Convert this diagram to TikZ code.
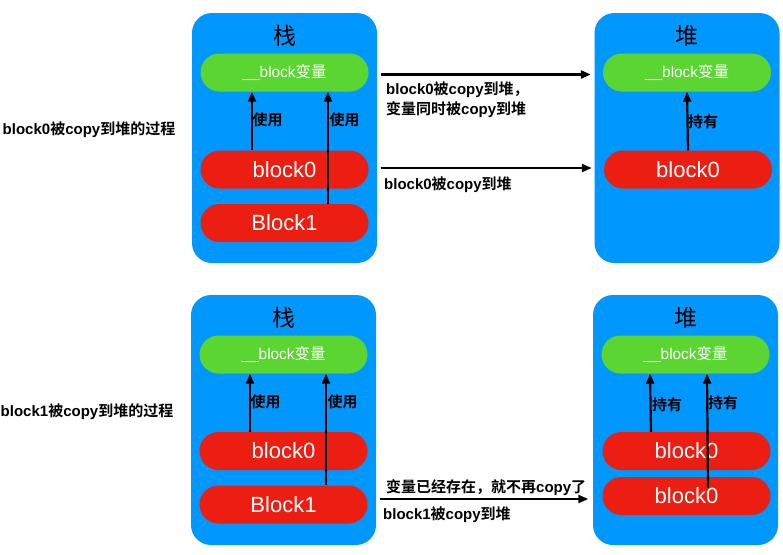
\documentclass[tikz,border=0pt]{standalone}
\usepackage{fontspec}
\setmainfont{Liberation Sans}
\newfontfamily\cjk[BoldFont={Noto Sans CJK SC Bold}]{Noto Sans CJK SC}
\usetikzlibrary{arrows.meta}
\definecolor{regionblue}{RGB}{0,152,255}
\definecolor{vargreen}{RGB}{90,213,50}
\definecolor{blockred}{RGB}{236,30,18}
\newcommand{\zh}[1]{{\cjk #1}}
\tikzstyle{region}=[rectangle, rounded corners=20pt, fill=regionblue, minimum width=185pt, minimum height=250pt, inner sep=0pt, anchor=center]
\tikzstyle{pill}=[rectangle, rounded corners=19pt, minimum width=168pt, minimum height=38pt, inner sep=0pt, text=white]
\tikzstyle{var}=[pill, fill=vargreen, font=\fontsize{15.4}{15.4}\selectfont]
\tikzstyle{blk}=[pill, fill=blockred, font=\fontsize{22}{22}\selectfont]
\tikzstyle{annot}=[inner sep=0pt, font=\bfseries\fontsize{15}{20}\selectfont]
\tikzstyle{heading}=[inner sep=0pt, font=\fontsize{23}{23}\selectfont]
\tikzstyle{link}=[line width=2.2pt, -{Triangle[length=10pt,width=8pt]}]
\newcommand{\drawregion}[4]
{
  \node[region](#1) at (#2,#3){};
  \node[heading](#1head) at (#2,#3-102){\zh{#4}};
  \node[var](#1var) at (#2,#3-65.5){\_\_block\zh{变量}};
}

\begin{document}
\begin{tikzpicture}[x=1pt, y=-1pt]
	\useasboundingbox (0,0) rectangle (783,554);

	% block0 is copied
	\drawregion{stackA}{284.5}{138}{栈}
	\drawregion{heapA}{687}{138}{堆}
	\node[blk](stackAblock0) at (284.5,169.5){block0};
	\node[blk](stackAblock1) at (284.5,223){Block1};
	\node[blk](heapAblock0) at (688,169.5){block0};

	\draw[link] ([xshift=-32.5pt]stackAblock0.north) -- ([xshift=-32.5pt]stackAvar.south);
	\draw[link] ([xshift=43.5pt]stackAblock1.north) -- ([xshift=43.5pt]stackAvar.south);
	\draw[link] (heapAblock0.north) -- (heapAvar.south);
	\node[annot](useA1) at (267.5,120){\zh{使用}};
	\node[annot](useA2) at (344.5,120){\zh{使用}};
	\node[annot](holdA) at (703,122){\zh{持有}};

	\draw[link] ([xshift=12pt,yshift=-2pt]stackAvar.east) -- ([xshift=-12pt,yshift=-2pt]heapAvar.west);
	\draw[link] ([xshift=12pt,yshift=1.5pt]stackAblock0.east) -- ([xshift=-12pt,yshift=1.5pt]heapAblock0.west);
	\node[annot, anchor=west, align=left](copyA1) at (386,100){block0\zh{被}copy\zh{到堆，}\\\zh{变量同时被}copy\zh{到堆}};
	\node[annot, anchor=west](copyA2) at (384,185){block0\zh{被}copy\zh{到堆}};
	\node[annot](procA) at (89,130){block0\zh{被}copy\zh{到堆的过程}};

	% block1 is copied
	\drawregion{stackB}{283.5}{420}{栈}
	\drawregion{heapB}{685.5}{420}{堆}
	\node[blk](stackBblock0) at (283.5,451){block0};
	\node[blk](stackBblock1) at (283.5,504.5){Block1};
	\node[blk](heapBblock0a) at (686.5,451){block0};
	\node[blk](heapBblock0b) at (686.5,496){block0};

	\draw[link] ([xshift=-33.5pt]stackBblock0.north) -- ([xshift=-33.5pt]stackBvar.south);
	\draw[link] ([xshift=42.5pt]stackBblock1.north) -- ([xshift=42.5pt]stackBvar.south);
	\draw[link] ([xshift=-35.5pt]heapBblock0a.north) -- ([xshift=-35.5pt]heapBvar.south);
	\draw[link] ([xshift=21.5pt,yshift=8pt]heapBblock0b.center) -- ([xshift=21.5pt]heapBvar.south);
	\node[annot](useB1) at (265.5,402){\zh{使用}};
	\node[annot](useB2) at (342.5,402){\zh{使用}};
	\node[annot](holdB1) at (667,405){\zh{持有}};
	\node[annot](holdB2) at (723,403){\zh{持有}};

	\draw[link] ([xshift=12pt,yshift=5.5pt]stackBblock1.east) -- ([xshift=-14pt,yshift=5.5pt]stackBblock1.east -| heapBblock0b.west);
	\node[annot, anchor=west](copyB1) at (386,488){\zh{变量已经存在，就不再}copy\zh{了}};
	\node[annot, anchor=west](copyB2) at (383,515){block1\zh{被}copy\zh{到堆}};
	\node[annot](procB) at (87,412){block1\zh{被}copy\zh{到堆的过程}};

\end{tikzpicture}
\end{document}
